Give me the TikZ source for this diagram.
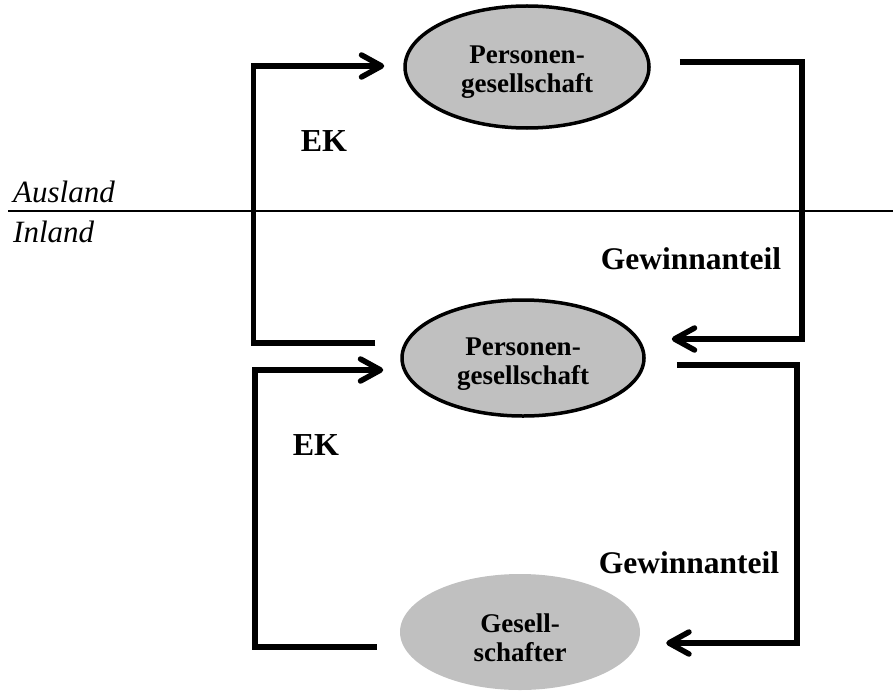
\documentclass[tikz,border=0pt]{standalone}
\usepackage{fontspec}
\setmainfont{Liberation Serif}
\usetikzlibrary{arrows.meta,shapes.geometric}
\definecolor{ellgray}{RGB}{192,192,192}
\begin{document}
\begin{tikzpicture}[x=1pt,y=-1pt,
  flow/.style={line width=5.5pt, -{Straight Barb[length=20pt,width=22pt,round]}},
  pgell/.style={ellipse, draw=black, line width=3.5pt, fill=ellgray, inner sep=0pt},
  gsell/.style={ellipse, fill=ellgray, inner sep=0pt},
  etext/.style={align=center, font=\bfseries\fontsize{27}{29}\selectfont, inner sep=0pt},
  lbl/.style={font=\bfseries\fontsize{32}{32}\selectfont, inner sep=0pt, anchor=base},
  glbl/.style={font=\bfseries\fontsize{31.5}{31.5}\selectfont, inner sep=0pt, anchor=base},
  region/.style={font=\itshape\fontsize{31}{31}\selectfont, inner sep=0pt, anchor=base west}]
\useasboundingbox (0,0) rectangle (893,690);

% divider
\coordinate (dl) at (8,211);
\coordinate (dr) at (893,211);
\draw[line width=1.8pt] (dl) -- (dr);
\node[region] (ausland) at (13,202) {Ausland};
\node[region] (inland) at (13,242) {Inland};

% ellipses
\node[pgell, minimum width=244pt, minimum height=122pt] (top) at (527,67) {};
\node[etext] (toptxt) at (527,72) {Personen-\\gesellschaft};
\node[pgell, minimum width=242pt, minimum height=116pt] (mid) at (523,358) {};
\node[etext] (midtxt) at (523,364) {Personen-\\gesellschaft};
\node[gsell, minimum width=240pt, minimum height=116pt] (bot) at (520,632) {};
\node[etext] (bottxt) at (520,638) {Gesell-\\schafter};

% labels
\node[lbl] (ek1) at (324,151) {EK};
\node[lbl] (ek2) at (316,455) {EK};
\node[glbl] (gw1) at (691,269) {Gewinnanteil};
\node[glbl] (gw2) at (689,573) {Gewinnanteil};

% connectors
\draw[flow] ([xshift=-25pt,yshift=15pt]mid.west) -- ++(-122,0) |- ([xshift=-19pt,yshift=1pt]top.west);
\draw[flow] ([xshift=29pt,yshift=5pt]top.east) -- ++(122,0) |- ([xshift=26pt,yshift=19pt]mid.east);
\draw[flow] ([xshift=-23pt,yshift=-15pt]bot.west) -- ++(-122,0) |- ([xshift=-17pt,yshift=-12pt]mid.west);
\draw[flow] ([xshift=31pt,yshift=-7pt]mid.east) -- ++(120,0) |- ([xshift=26pt,yshift=-11pt]bot.east);
\end{tikzpicture}
\end{document}
